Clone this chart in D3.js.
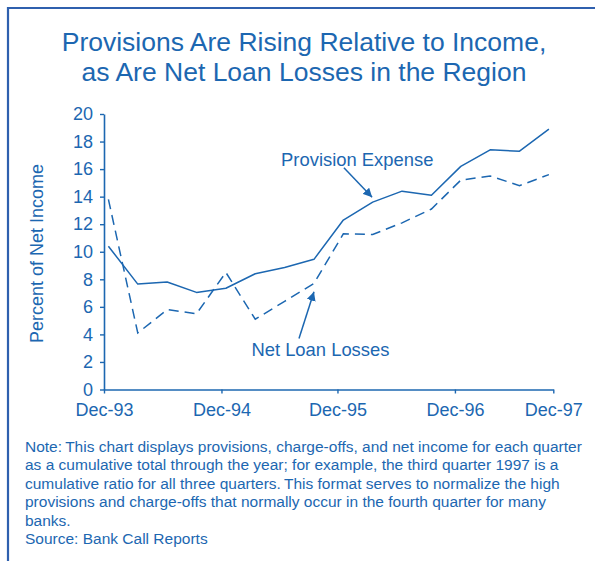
<!DOCTYPE html>
<html>
<head>
<meta charset="utf-8">
<script src="https://cdn.jsdelivr.net/npm/d3@7"></script>
<style>
  html, body { margin: 0; padding: 0; background: #ffffff; }
  svg { display: block; }
  text { font-family: Arial, "Liberation Sans", Helvetica, sans-serif; fill: #1c67b1; }
</style>
</head>
<body>
<svg id="chart" width="595" height="561"></svg>
<script>
// Quarterly observations, Dec-93 through Sep-97 (cumulative through the year)
const quarters = ["Dec-93","Mar-94","Jun-94","Sep-94","Dec-94","Mar-95","Jun-95","Sep-95",
                  "Dec-95","Mar-96","Jun-96","Sep-96","Dec-96","Mar-97","Jun-97","Sep-97"];
const provisionExpense = [10.4, 7.65, 7.8, 7.05, 7.35, 8.4, 8.85, 9.45,
                          12.3, 13.6, 14.4, 14.1, 16.2, 17.4, 17.3, 18.9];
const netLoanLosses    = [13.8, 4.1, 5.8, 5.5, 8.5, 5.1, 6.4, 7.7,
                          11.3, 11.25, 12.1, 13.1, 15.2, 15.5, 14.8, 15.6];

// Axis labels; x positions are in quarters from the first observation
const xTickLabels = ["Dec-93","Dec-94","Dec-95","Dec-96","Dec-97"];
const xTickAt     = [-0.15, 3.85, 7.8, 11.8, 15.15];
const yTicks      = [0, 2, 4, 6, 8, 10, 12, 14, 16, 18, 20];

const titleLines = ["Provisions Are Rising Relative to Income,",
                    "as Are Net Loan Losses in the Region"];
const yAxisTitle = "Percent of Net Income";
const noteLines = [
  "Note:\u2009This chart displays provisions, charge-offs, and net income for each quarter",
  "as a cumulative total through the year; for example, the third quarter 1997 is a",
  "cumulative ratio for all three quarters.\u2009This format serves to normalize the high",
  "provisions and charge-offs that normally occur in the fourth quarter for many",
  "banks.",
  "Source: Bank Call Reports"
];

const BLUE = "#1c67b1";
const svg = d3.select("#chart");

// Frame: rule along the top and left edges
svg.append("path")
  .attr("d", "M8,561 L8,8 L595,8")
  .attr("fill", "none")
  .attr("stroke", "#2f60ae")
  .attr("stroke-width", 2.2);

// Title
svg.append("g").selectAll("text")
  .data(titleLines).join("text")
  .attr("x", 304)
  .attr("y", (d, i) => 50.5 + i * 30.5)
  .attr("text-anchor", "middle")
  .attr("font-size", 26.5)
  .text(d => d);

// Scales
const x = d3.scaleLinear().domain([-0.15, 15.15]).range([104, 553.3]);
const y = d3.scaleLinear().domain([0, 20]).range([389.5, 114]);

// Axes
const yAxis = d3.axisLeft(y).tickValues(yTicks).tickSize(4).tickSizeOuter(0).tickPadding(7);
const xAxis = d3.axisBottom(x).tickValues(xTickAt)
  .tickFormat((d, i) => xTickLabels[i]).tickSize(4).tickSizeOuter(0).tickPadding(10);

const gy = svg.append("g").attr("transform", `translate(${x.range()[0]},0)`).call(yAxis);
const gx = svg.append("g").attr("transform", `translate(0,${y.range()[0]})`).call(xAxis);
[gx, gy].forEach(g => {
  g.select(".domain").attr("stroke", BLUE).attr("stroke-width", 1.6);
  g.selectAll(".tick line").attr("stroke", BLUE).attr("stroke-width", 1.4);
  g.selectAll(".tick text").attr("fill", BLUE).attr("font-size", 18)
    .attr("font-family", 'Arial, "Liberation Sans", Helvetica, sans-serif');
});

// Y axis title
svg.append("text")
  .attr("transform", "translate(42.5,253.5) rotate(-90)")
  .attr("text-anchor", "middle")
  .attr("font-size", 18)
  .text(yAxisTitle);

// Series lines
const line = d3.line().x((d, i) => x(i)).y(d => y(d));

svg.append("path")
  .datum(netLoanLosses)
  .attr("d", line)
  .attr("fill", "none")
  .attr("stroke", BLUE)
  .attr("stroke-width", 1.5)
  .attr("stroke-dasharray", "10,6");

svg.append("path")
  .datum(provisionExpense)
  .attr("d", line)
  .attr("fill", "none")
  .attr("stroke", BLUE)
  .attr("stroke-width", 1.5)
  .attr("stroke-linejoin", "round");

// Series annotations (positions in quarter / percent units)
const annotations = [
  { text: "Provision Expense", label: [5.88, 16.2], from: [8.02, 16.1], to: [8.98, 13.95] },
  { text: "Net Loan Losses",   label: [4.87, 2.42], from: [6.49, 3.7],  to: [7.0, 7.1] }
];

svg.append("defs").append("marker")
  .attr("id", "head")
  .attr("viewBox", "0 0 10 10")
  .attr("refX", 10).attr("refY", 5)
  .attr("markerWidth", 9).attr("markerHeight", 9)
  .attr("markerUnits", "userSpaceOnUse")
  .attr("orient", "auto")
  .append("path")
  .attr("d", "M0,0 L10,5 L0,10 Z")
  .attr("fill", BLUE);

const ann = svg.append("g");
annotations.forEach(a => {
  ann.append("text")
    .attr("x", x(a.label[0]))
    .attr("y", y(a.label[1]))
    .attr("font-size", 18.4)
    .text(a.text);
  ann.append("line")
    .attr("x1", x(a.from[0])).attr("y1", y(a.from[1]))
    .attr("x2", x(a.to[0])).attr("y2", y(a.to[1]))
    .attr("stroke", BLUE)
    .attr("stroke-width", 1.5)
    .attr("marker-end", "url(#head)");
});

// Footnote
svg.append("g").selectAll("text")
  .data(noteLines).join("text")
  .attr("x", 25)
  .attr("y", (d, i) => 451.7 + i * 18.45)
  .attr("font-size", 15.5)
  .text(d => d);
</script>
</body>
</html>
